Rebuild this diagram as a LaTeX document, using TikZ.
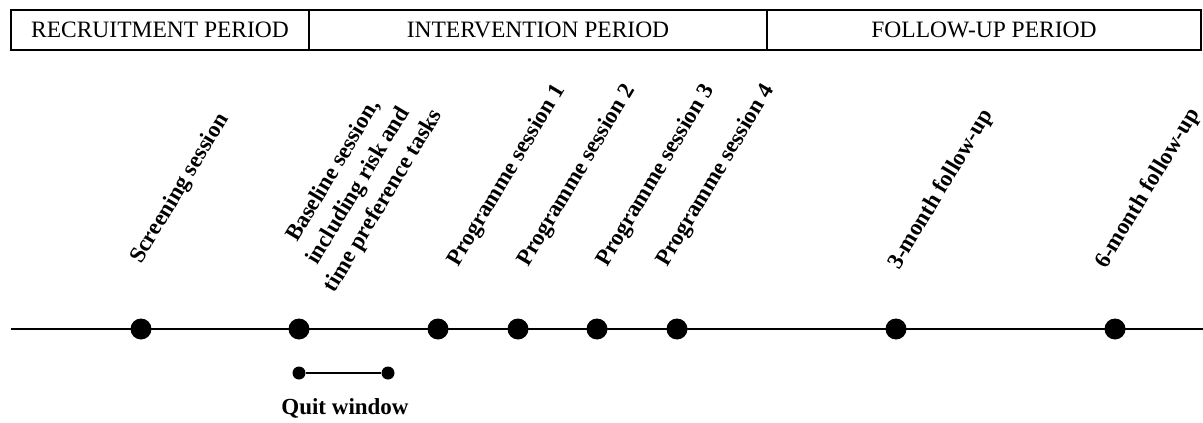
\documentclass[tikz,border=0pt]{standalone}
\usepackage{fontspec}
\setmainfont{Liberation Serif}
\begin{document}
\begin{tikzpicture}[x=1pt,y=-1pt,
	period/.style={font=\fontsize{23.5}{27}\selectfont},
	dot/.style={circle,fill=black,inner sep=0pt,minimum size=21pt},
	smalldot/.style={circle,fill=black,inner sep=0pt,minimum size=13pt},
	event/.style={rotate=59,anchor=base west,inner sep=0pt,font=\fontsize{23}{29}\selectfont\bfseries}]
			\useasboundingbox (0,0) rectangle (1203,423);
			% periods
			\draw[line width=1.5pt] (11,10) rectangle (1201,50);
			\draw[line width=1.5pt] (309,10) -- (309,50);
			\draw[line width=1.5pt] (767,10) -- (767,50);
			\node[period] (recruit) at (160,30) {RECRUITMENT PERIOD};
			\node[period] (interv) at (538,30) {INTERVENTION PERIOD};
			\node[period] (follow) at (984,30) {FOLLOW-UP PERIOD};
			% timeline
			\coordinate (tstart) at (11,329);
			\coordinate (tend) at (1203,329);
			\draw[line width=1.6pt] (tstart) -- (tend);
			\node[dot] (screen) at (141,329) {};
			\node[dot] (base) at (299,329) {};
			\node[dot] (prog1) at (438,329) {};
			\node[dot] (prog2) at (518,329) {};
			\node[dot] (prog3) at (597,329) {};
			\node[dot] (prog4) at (677,329) {};
			\node[dot] (fu3) at (896,329) {};
			\node[dot] (fu6) at (1115,329) {};
			% labels
			\node[event] (screenlab) at (141,265) {Screening session};
			\node[event,anchor=center,align=center] (baselab) at (359,186) {Baseline session,\\including risk and\\time preference tasks};
			\node[event] (prog1lab) at (458,268) {Programme session 1};
			\node[event] (prog2lab) at (528,268) {Programme session 2};
			\node[event] (prog3lab) at (607,268) {Programme session 3};
			\node[event] (prog4lab) at (667,268) {Programme session 4};
			\node[event] (fu3lab) at (899,271) {3-month follow-up};
			\node[event] (fu6lab) at (1106,270) {6-month follow-up};
			% quit window
			\node[smalldot] (qa) at (299,373) {};
			\node[smalldot] (qb) at (388,373) {};
			\draw[line width=1.6pt] (qa) -- (qb);
			\node[font=\fontsize{23}{27}\selectfont\bfseries] (quit) at (345,408) {Quit window};
\end{tikzpicture}
\end{document}
